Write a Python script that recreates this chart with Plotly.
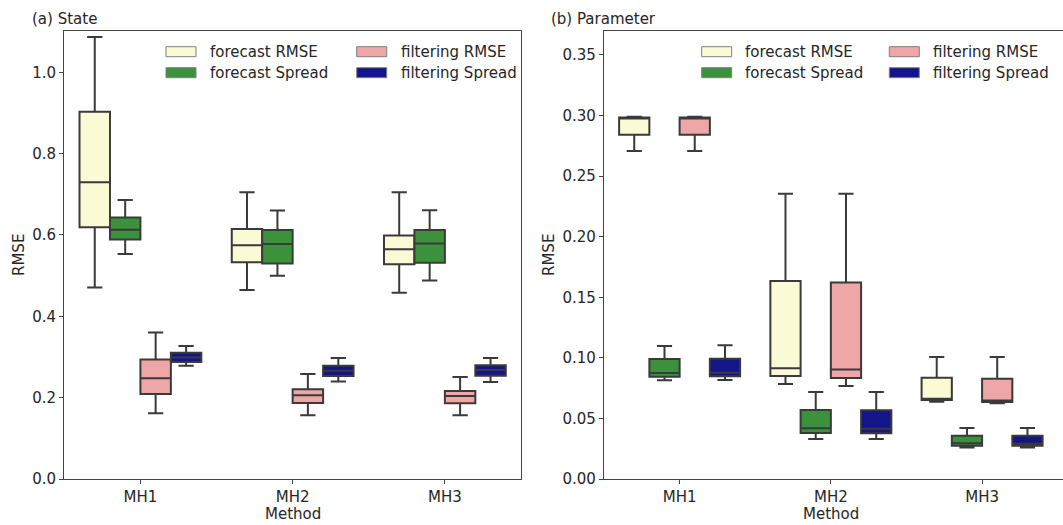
import plotly.graph_objects as go

W, H = 1063, 525

categories = ["MH1", "MH2", "MH3"]
series_names = ["forecast RMSE", "forecast Spread", "filtering RMSE", "filtering Spread"]
series_colors = ["#FAFAD4", "#3C923C", "#EFA6A6", "#15158B"]

# (a) State
state_fc_rmse_lo = [0.471, 0.465, 0.458]
state_fc_rmse_q1 = [0.619, 0.533, 0.528]
state_fc_rmse_med = [0.7295, 0.5746, 0.565]
state_fc_rmse_q3 = [0.903, 0.615, 0.599]
state_fc_rmse_hi = [1.087, 0.705, 0.705]

state_fc_spread_lo = [0.553, 0.500, 0.488]
state_fc_spread_q1 = [0.589, 0.530, 0.532]
state_fc_spread_med = [0.613, 0.578, 0.579]
state_fc_spread_q3 = [0.643, 0.612, 0.612]
state_fc_spread_hi = [0.686, 0.660, 0.661]

state_fi_rmse_lo = [0.1615, 0.157, 0.1566]
state_fi_rmse_q1 = [0.209, 0.187, 0.186]
state_fi_rmse_med = [0.2475, 0.2058, 0.204]
state_fi_rmse_q3 = [0.294, 0.2205, 0.2164]
state_fi_rmse_hi = [0.360, 0.258, 0.2508]

state_fi_spread_lo = [0.2787, 0.240, 0.2385]
state_fi_spread_q1 = [0.288, 0.2533, 0.254]
state_fi_spread_med = [0.299, 0.2664, 0.268]
state_fi_spread_q3 = [0.3106, 0.2787, 0.280]
state_fi_spread_hi = [0.327, 0.2975, 0.2975]

# (b) Parameter
par_fc_rmse_lo = [0.2708, 0.0784, 0.0638]
par_fc_rmse_q1 = [0.2842, 0.0850, 0.0652]
par_fc_rmse_med = [0.2978, 0.0914, 0.0663]
par_fc_rmse_q3 = [0.2983, 0.1634, 0.0836]
par_fc_rmse_hi = [0.2990, 0.2355, 0.1007]

par_fc_spread_lo = [0.0815, 0.0330, 0.0259]
par_fc_spread_q1 = [0.0845, 0.0380, 0.0275]
par_fc_spread_med = [0.0875, 0.0418, 0.0295]
par_fc_spread_q3 = [0.0991, 0.0570, 0.0358]
par_fc_spread_hi = [0.1098, 0.0718, 0.0421]

par_fi_rmse_lo = [0.2708, 0.0768, 0.0625]
par_fi_rmse_q1 = [0.2842, 0.0834, 0.0636]
par_fi_rmse_med = [0.2978, 0.0903, 0.0647]
par_fi_rmse_q3 = [0.2983, 0.1623, 0.0828]
par_fi_rmse_hi = [0.2990, 0.2355, 0.1007]

par_fi_spread_lo = [0.0817, 0.0330, 0.0259]
par_fi_spread_q1 = [0.0848, 0.0377, 0.0275]
par_fi_spread_med = [0.0878, 0.0415, 0.0292]
par_fi_spread_q3 = [0.0993, 0.0567, 0.0358]
par_fi_spread_hi = [0.1104, 0.0718, 0.0421]

state_stats = [
    (state_fc_rmse_lo, state_fc_rmse_q1, state_fc_rmse_med, state_fc_rmse_q3, state_fc_rmse_hi),
    (state_fc_spread_lo, state_fc_spread_q1, state_fc_spread_med, state_fc_spread_q3, state_fc_spread_hi),
    (state_fi_rmse_lo, state_fi_rmse_q1, state_fi_rmse_med, state_fi_rmse_q3, state_fi_rmse_hi),
    (state_fi_spread_lo, state_fi_spread_q1, state_fi_spread_med, state_fi_spread_q3, state_fi_spread_hi),
]
par_stats = [
    (par_fc_rmse_lo, par_fc_rmse_q1, par_fc_rmse_med, par_fc_rmse_q3, par_fc_rmse_hi),
    (par_fc_spread_lo, par_fc_spread_q1, par_fc_spread_med, par_fc_spread_q3, par_fc_spread_hi),
    (par_fi_rmse_lo, par_fi_rmse_q1, par_fi_rmse_med, par_fi_rmse_q3, par_fi_rmse_hi),
    (par_fi_spread_lo, par_fi_spread_q1, par_fi_spread_med, par_fi_spread_q3, par_fi_spread_hi),
]

LINE = "#3a3a3a"
TXT = "#262626"
FONT = "DejaVu Sans"
FS = 15

def px(x):
    return x / W

def py(y):
    return 1 - y / H

fig = go.Figure()
for panel, stats in (("", state_stats), ("2", par_stats)):
    for name, color, (lo, q1, med, q3, hi) in zip(series_names, series_colors, stats):
        fig.add_trace(go.Box(
            x=categories, lowerfence=lo, q1=q1, median=med, q3=q3, upperfence=hi,
            name=name, fillcolor=color, line=dict(color=LINE, width=2),
            whiskerwidth=0.5, boxpoints=False, showlegend=False,
            xaxis="x" + panel, yaxis="y" + panel, offsetgroup=name,
            hoverinfo="skip",
        ))

ydom = [py(479), py(31)]
axis_common = dict(showline=True, linecolor="#444444", linewidth=1.4, ticks="outside",
                   ticklen=4, tickwidth=1.2, tickcolor="#444444", showgrid=False, zeroline=False,
                   tickfont=dict(family=FONT, size=FS, color=TXT), automargin=False)

fig.update_layout(
    width=W, height=H, autosize=False,
    margin=dict(l=0, r=0, t=0, b=0),
    paper_bgcolor="white", plot_bgcolor="white",
    template="none",
    boxmode="group", boxgap=0.2, boxgroupgap=0.0,
    font=dict(family=FONT, size=FS, color=TXT),
    xaxis=dict(domain=[px(64.3), px(521)], range=[-0.5, 2.5], mirror=True, anchor="y",
               type="category", **axis_common),
    yaxis=dict(domain=ydom, range=[0, 1.1016], mirror=True, anchor="x",
               tickvals=[0, 0.2, 0.4, 0.6, 0.8, 1.0], ticktext=["0.0", "0.2", "0.4", "0.6", "0.8", "1.0"],
               **axis_common),
    xaxis2=dict(domain=[px(604), 1.0], range=[-0.5, 2.535], mirror=True, anchor="y2",
                type="category", **axis_common),
    yaxis2=dict(domain=ydom, range=[0, 0.3698], mirror=False, anchor="x2",
                tickvals=[0, 0.05, 0.1, 0.15, 0.2, 0.25, 0.3, 0.35],
                ticktext=["0.00", "0.05", "0.10", "0.15", "0.20", "0.25", "0.30", "0.35"],
                **axis_common),
)

annotations = []
shapes = []

def text(x, y, s, anchor="left", angle=0):
    annotations.append(dict(x=px(x), y=py(y), xref="paper", yref="paper", text=s,
                            showarrow=False, xanchor=anchor, yanchor="middle", textangle=angle,
                            font=dict(family=FONT, size=FS, color=TXT)))

# titles
text(30.3, 19, "(a) State")
text(549.3, 19, "(b) Parameter")
# axis titles
text(293, 514, "Method", anchor="center")
text(831, 514, "Method", anchor="center")
text(19, 255, "RMSE", anchor="center", angle=-90)
text(549, 255, "RMSE", anchor="center", angle=-90)

# legends (2 columns): row 0: fc RMSE, fi RMSE / row 1: fc Spread, fi Spread
legend_layout = [(0, 0, 0), (1, 0, 1), (2, 1, 0), (3, 1, 1)]  # series idx, col, row
for (sym_x0, col2_x0, text_dx) in ((166, 356.7, 42), (701.7, 889.3, 41.6)):
    for idx, col, row in legend_layout:
        x0 = sym_x0 if col == 0 else col2_x0
        yc = 51.7 + 21 * row
        shapes.append(dict(type="rect", xref="paper", yref="paper",
                           x0=px(x0), x1=px(x0 + 30), y0=py(yc + 5), y1=py(yc - 5),
                           fillcolor=series_colors[idx], line=dict(color="#808080", width=1)))
        text(x0 + text_dx, yc, series_names[idx])

fig.update_layout(annotations=annotations, shapes=shapes)
fig.write_html("out.html", config={"displayModeBar": False},
               post_script="document.body.style.margin='0';document.body.style.padding='0';")
